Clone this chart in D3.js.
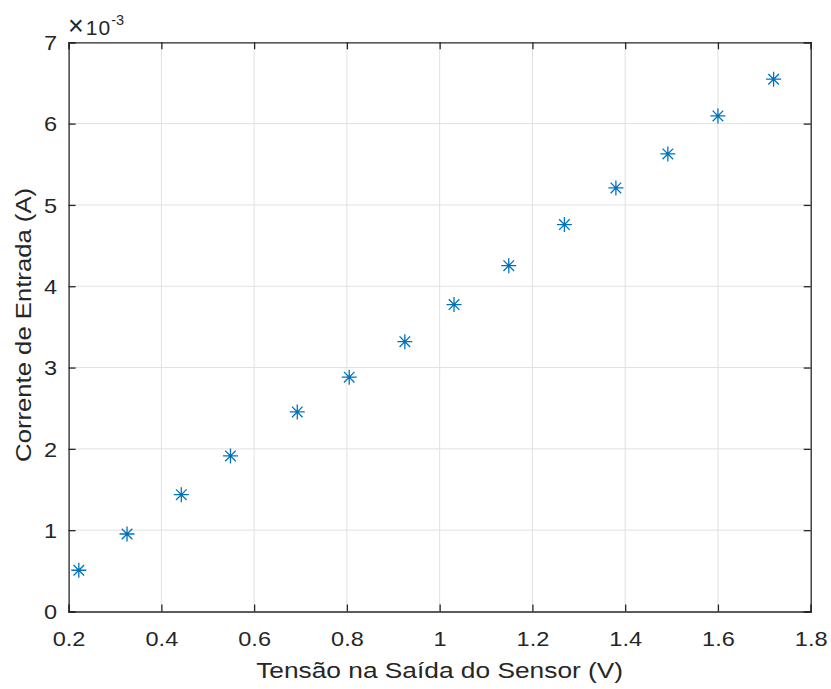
<!DOCTYPE html>
<html><head><meta charset="utf-8">
<script src="https://cdn.jsdelivr.net/npm/d3@7"></script>
<style>
body{margin:0;background:#fff;}
text{font-family:"Liberation Sans",Arial,sans-serif;fill:#262626;}
</style></head>
<body><svg id="c" width="831" height="689"></svg>
<script>
const tensao = [0.222,0.326,0.443,0.549,0.693,0.805,0.925,1.031,1.149,1.269,1.380,1.492,1.600,1.720];
const corrente = [0.507,0.953,1.437,1.913,2.454,2.882,3.318,3.775,4.253,4.758,5.209,5.627,6.095,6.546]; // x 1e-3 A
const xTicks = [0.2,0.4,0.6,0.8,1,1.2,1.4,1.6,1.8];
const yTicks = [0,1,2,3,4,5,6,7];
const xLabel = "Tensão na Saída do Sensor (V)";
const yLabel = "Corrente de Entrada (A)";

const svg = d3.select("#c");
const L=68.6, R=810.7, T=42.3, B=611.5;
const x = d3.scaleLinear().domain([0.2,1.8]).range([L,R]);
const y = d3.scaleLinear().domain([0,7]).range([B,T]);
const axCol="#262626", gridCol="#e1e1e1";
const fmt = d => String(d);
const widen = (sel, k) => sel.each(function(){
  const w = this.getComputedTextLength();
  d3.select(this).attr("textLength", w*k).attr("lengthAdjust","spacingAndGlyphs");
});

// grid
svg.append("g").selectAll("line").data(xTicks.slice(1,-1)).join("line")
  .attr("x1",d=>x(d)).attr("x2",d=>x(d)).attr("y1",T).attr("y2",B)
  .attr("stroke",gridCol).attr("stroke-width",1);
svg.append("g").selectAll("line").data(yTicks.slice(1,-1)).join("line")
  .attr("y1",d=>y(d)).attr("y2",d=>y(d)).attr("x1",L).attr("x2",R)
  .attr("stroke",gridCol).attr("stroke-width",1);

// axes
const xAx = svg.append("g").attr("transform",`translate(0,${B})`)
  .call(d3.axisBottom(x).tickValues(xTicks).tickSize(-7).tickPadding(20).tickFormat(fmt));
const xAxTop = svg.append("g").attr("transform",`translate(0,${T})`)
  .call(d3.axisTop(x).tickValues(xTicks).tickSize(-7).tickFormat(""));
const yAx = svg.append("g").attr("transform",`translate(${L},0)`)
  .call(d3.axisLeft(y).tickValues(yTicks).tickSize(-7).tickPadding(11.5).tickFormat(fmt));
const yAxR = svg.append("g").attr("transform",`translate(${R},0)`)
  .call(d3.axisRight(y).tickValues(yTicks).tickSize(-7).tickFormat(""));
[xAx,xAxTop,yAx,yAxR].forEach(g=>{
  g.selectAll("path").attr("stroke",axCol).attr("stroke-width",1.3);
  g.selectAll("line").attr("stroke",axCol).attr("stroke-width",1.3);
  g.selectAll("text").style("font-size","21px")
    .attr("fill",axCol).style("font-family","Liberation Sans, Arial, sans-serif");
});
xAx.selectAll("text").attr("dy","0.71em");
yAx.selectAll("text").attr("dy","0.35em");
widen(xAx.selectAll("text"), 1.12);
widen(yAx.selectAll("text"), 1.12);

// exponent label
const ex = svg.append("text").attr("x",68).attr("y",35).style("font-size","21px");
ex.append("tspan").text("\u00d7").style("font-size","27px");
ex.append("tspan").attr("dx",2).text("10").attr("letter-spacing","1px");
ex.append("tspan").attr("dy",-10).style("font-size","14.5px").text("-3");

// labels
svg.append("text").attr("x",(L+R)/2).attr("y",677.5).attr("text-anchor","middle")
  .attr("textLength",367).attr("lengthAdjust","spacingAndGlyphs")
  .style("font-size","22.5px").text(xLabel);
svg.append("text").attr("transform",`translate(31,${(T+B)/2-2}) rotate(-90)`).attr("text-anchor","middle")
  .attr("textLength",274).attr("lengthAdjust","spacingAndGlyphs")
  .style("font-size","22.5px").text(yLabel);

// markers (asterisk)
const col="#0072BD", s=7.5, d=5.3;
const data = tensao.map((v,i)=>({x:v,y:corrente[i]}));
const m = svg.append("g").selectAll("g").data(data).join("g")
  .attr("transform",p=>`translate(${x(p.x)},${y(p.y)})`);
m.append("path")
  .attr("d",`M${-s},0H${s}M0,${-s}V${s}M${-d},${-d}L${d},${d}M${-d},${d}L${d},${-d}`)
  .attr("stroke",col).attr("stroke-width",1.3).attr("fill","none");
</script></body></html>
